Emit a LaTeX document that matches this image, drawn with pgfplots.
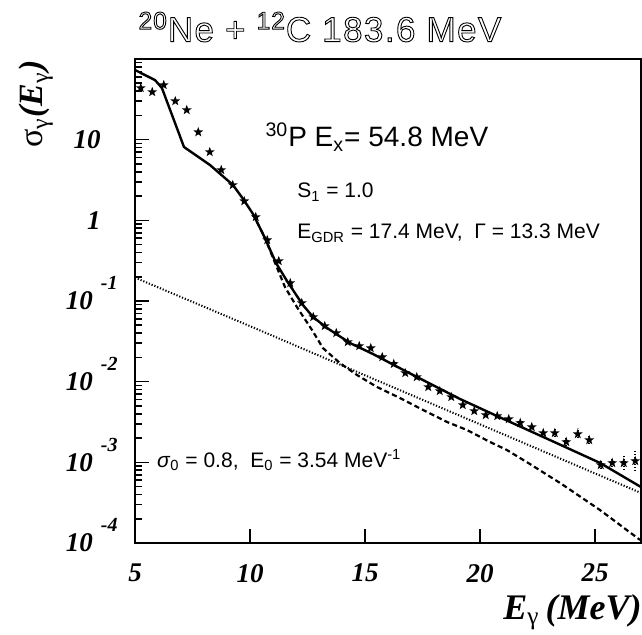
\documentclass[border=0pt]{standalone}
\usepackage{fontspec}
\setmainfont{Liberation Serif}
\newfontfamily\hv{Liberation Sans}
\usepackage{pgfplots}
\pgfplotsset{compat=1.18}
\newcommand{\bi}[1]{\textbf{\textit{#1}}}
\newcommand{\yexp}[1]{\bi{10}\hspace{4pt}\smash{\raisebox{10pt}{\fontsize{10}{10}\selectfont\bi{#1}}}}
\newcommand{\ypl}[1]{\bi{#1}\rule{8.5pt}{0pt}}

\pgfdeclareplotmark{fstar}{%
  \pgfpathmoveto{\pgfqpoint{0pt}{2.6pt}}%
  \pgfpathlineto{\pgfqpoint{-0.625pt}{0.860pt}}%
  \pgfpathlineto{\pgfqpoint{-2.473pt}{0.803pt}}%
  \pgfpathlineto{\pgfqpoint{-1.011pt}{-0.329pt}}%
  \pgfpathlineto{\pgfqpoint{-1.528pt}{-2.103pt}}%
  \pgfpathlineto{\pgfqpoint{0pt}{-1.063pt}}%
  \pgfpathlineto{\pgfqpoint{1.528pt}{-2.103pt}}%
  \pgfpathlineto{\pgfqpoint{1.011pt}{-0.329pt}}%
  \pgfpathlineto{\pgfqpoint{2.473pt}{0.803pt}}%
  \pgfpathlineto{\pgfqpoint{0.625pt}{0.860pt}}%
  \pgfpathclose
  \pgfusepathqfill
}

\begin{document}
\begin{tikzpicture}
\begin{axis}[
  scale only axis, width=253pt, height=242pt,
  ymode=log, xmin=5, xmax=27, ymin=1e-4, ymax=1e2,
  axis line style={line width=1pt},
  tick align=inside, xtick pos=left, ytick pos=left,
  xtick={5,10,15,20,25},
  xticklabels={\bi{5},\bi{10},\bi{15},\bi{20},\bi{25}},
  minor x tick num=0,
  major tick length=7pt, minor tick length=3.5pt,
  tick style={line width=0.8pt, black},
  yticklabels={{},\yexp{-4},\yexp{-3},\yexp{-2},\yexp{-1},{\ypl{1}},{\ypl{10}},{},{}},
  ticklabel style={font=\fontsize{13.5}{14}\selectfont},
  yticklabel style={anchor=east, inner sep=0pt, xshift=-8.5pt},
  xticklabel style={yshift=-7pt},
]
% dotted: sigma_0 exp(-E/E_0)
\addplot[black, line width=1pt, dash pattern=on 0.6pt off 0.9pt] coordinates {
 (5,0.195) (10,0.0488) (15,0.0120) (20,0.00296) (25,0.000729) (27,0.000417)};
% dashed
\addplot[black, line width=1.1pt, dash pattern=on 2.6pt off 1.6pt] coordinates {
 (10.13,1.20) (10.65,0.604) (11.09,0.296) (11.52,0.149) (12.04,0.0841) (12.70,0.0436)
 (13.17,0.0261) (13.91,0.0170) (14.65,0.0121) (15.52,0.00859) (16.52,0.00627)
 (17.52,0.00446) (18.57,0.00316) (19.43,0.00252) (20.43,0.00179) (21.17,0.00142)
 (22.17,0.000953) (23.48,0.000555) (25.22,0.000256) (26.96,0.000109)};
% solid
\addplot[black, line width=1.2pt] coordinates {
 (5.00,73) (5.87,54.8) (6.17,43.7) (7.13,8.11) (8.26,4.85) (9.26,2.74) (9.70,1.84)
 (10.13,1.20) (10.65,0.604) (11.13,0.296) (11.61,0.177) (12.30,0.0891) (12.74,0.0634)
 (13.35,0.0463) (14.35,0.0301) (15.35,0.0220) (16.83,0.0132) (19.13,0.00610)
 (20.74,0.00375) (23.04,0.00189) (25.22,0.000983) (27.00,0.000494)};
% data
\addplot[only marks, mark=fstar, black,
  error bars/.cd, y dir=both, y explicit, error mark=none,
  error bar style={line width=0.8pt, dash pattern=on 0.6pt off 0.9pt}]
 table[x=x, y=y, y error plus=ep, y error minus=em] {
 x y ep em
 5.25 43.7 0 0
 5.75 39.0 0 0
 6.25 47.6 0 0
 6.75 30.1 0 0
 7.25 23.3 0 0
 7.75 12.4 0 0
 8.25 7.03 0 0
 8.75 4.21 0 0
 9.25 2.74 0 0
 9.75 1.73 0 0
 10.25 1.10 0 0
 10.75 0.570 0 0
 11.25 0.313 0 0
 11.75 0.167 0 0
 12.25 0.0944 0 0
 12.75 0.0634 0 0
 13.25 0.0490 0 0
 13.75 0.0401 0 0
 14.25 0.0310 0 0
 14.75 0.0277 0 0
 15.25 0.0261 0 0
 15.75 0.0202 0 0
 16.25 0.0166 0 0
 16.75 0.0128 0 0
 17.25 0.0114 0 0
 17.75 0.00859 0 0
 18.25 0.00766 0 0
 18.75 0.00646 0 0
 19.25 0.00514 0 0
 19.75 0.00433 0 0
 20.25 0.00386 0 0
 20.75 0.00375 0 0
 21.25 0.00344 0 0
 21.75 0.00308 0 0
 22.25 0.00274 0 0
 22.75 0.00231 0 0
 23.25 0.00231 0.00028 0.00025
 23.75 0.00179 0.00027 0.00024
 24.25 0.00224 0.00042 0.00035
 24.75 0.00189 0.00029 0.00025
 25.25 0.000927 0.00014 0.00012
 25.75 0.000983 0.00018 0.00015
 26.25 0.000983 0.00022 0.00018
 26.75 0.00104 0.00034 0.00026
};
\node[inner sep=0pt, font=\hv\fontsize{14}{16}\selectfont] at (rel axis cs:0.478,0.839)
  {\textsuperscript{30}P E\textsubscript{x}= 54.8 MeV};
\node[anchor=west, inner sep=0pt, font=\hv\fontsize{10.5}{12}\selectfont] at (rel axis cs:0.320,0.725)
  {S\textsubscript{1} = 1.0};
\node[anchor=west, inner sep=0pt, font=\hv\fontsize{10.5}{12}\selectfont] at (rel axis cs:0.320,0.640)
  {E\textsubscript{GDR} = 17.4 MeV,\ \ Γ = 13.3 MeV};
\node[anchor=west, inner sep=0pt, font=\hv\fontsize{10.5}{12}\selectfont] at (rel axis cs:0.043,0.171)
  {\textit{σ}\textsubscript{0} = 0.8,\ \ E\textsubscript{0} = 3.54 MeV\textsuperscript{-1}};
\end{axis}
\node[inner sep=0pt, font=\hv\fontsize{17.5}{18}\selectfont\addfontfeature{LetterSpace=4}] at ([shift={(92.5pt,16pt)}]current axis.north west)
  {\special{pdf:literal direct 1 Tr 0.45 w}\textsuperscript{20}Ne + \textsuperscript{12}C 183.6 MeV\special{pdf:literal direct 0 Tr}};
\node[rotate=90, inner sep=0pt, font=\fontsize{17}{18}\selectfont] at ([shift={(-49.5pt,219.5pt)}]current axis.south west)
  {σ\textsubscript{γ}\bi{(E}\textsubscript{γ}\bi{)}};
\node[anchor=east, inner sep=0pt, font=\fontsize{18}{20}\selectfont] at ([shift={(0.5pt,-34.5pt)}]current axis.south east)
  {\bi{E}\textsubscript{γ}\,\bi{(MeV)}};
\pgfresetboundingbox
\path[use as bounding box] ([shift={(-67.5pt,-46pt)}]current axis.south west) rectangle ([shift={(0.5pt,29.5pt)}]current axis.north east);
\end{tikzpicture}
\end{document}
